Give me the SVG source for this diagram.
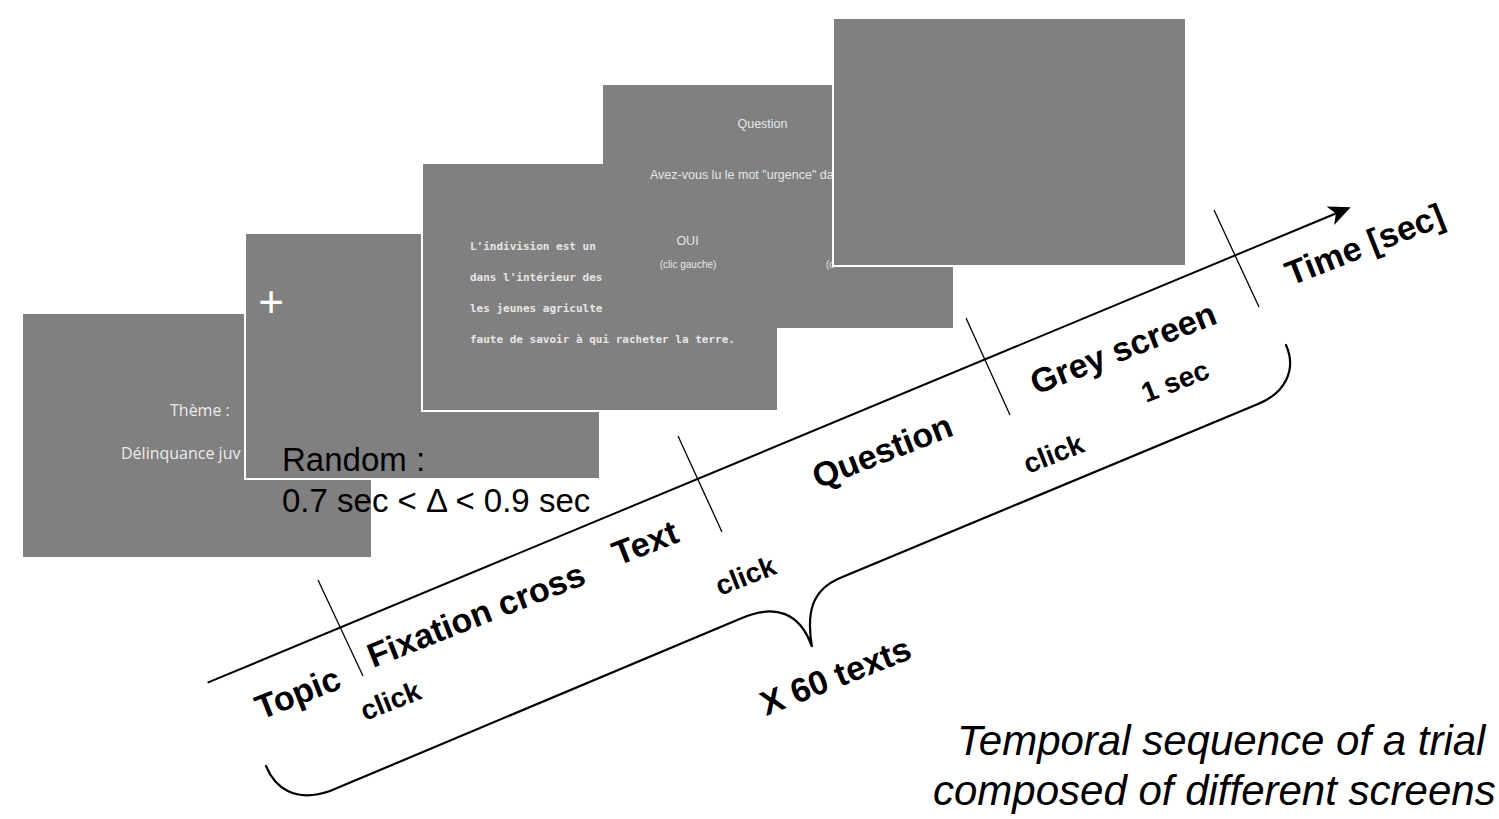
<svg xmlns="http://www.w3.org/2000/svg" width="1499" height="819" viewBox="0 0 1499 819">
  <style>
    .scr { fill: #808080; }
    .scrb { fill: #808080; stroke: #ffffff; stroke-width: 2; }
    .t1 { font-family: "Open Sans", "Liberation Sans", sans-serif; font-size: 16px; fill: #ececec; }
    .mono { font-family: "DejaVu Sans Mono", "Liberation Mono", monospace; font-weight: bold; font-size: 11px; fill: #e6e6e6; }
    .q { font-family: "Liberation Sans", Arial, sans-serif; fill: #e6e6e6; }
    .rnd { font-family: "Liberation Sans", Arial, sans-serif; font-size: 33px; fill: #000000; }
    .lbl { font-family: "Liberation Sans", Arial, sans-serif; font-weight: bold; font-size: 34px; fill: #000000; }
    .sm { font-family: "Liberation Sans", Arial, sans-serif; font-weight: bold; font-size: 28px; fill: #000000; }
    .cap { font-family: "Liberation Sans", Arial, sans-serif; font-style: italic; font-size: 42px; fill: #000000; }
    .axis { stroke: #000000; stroke-width: 2; fill: none; }
    .tick { stroke: #000000; stroke-width: 1.3; fill: none; }
    .brace { stroke: #000000; stroke-width: 2.2; fill: none; stroke-linecap: round; }
  </style>

  <g id="screen-topic">
    <rect class="scr" x="23" y="314" width="348" height="243"/>
    <text class="t1" x="170" y="416">Thème :</text>
    <text class="t1" x="121" y="459">Délinquance juv</text>
  </g>

  <g id="screen-fixation">
    <rect class="scrb" x="245" y="233" width="355" height="246"/>
    <text x="271" y="317" text-anchor="middle" style="font-family: 'Liberation Sans', Arial, sans-serif; font-size: 44px; fill: #ffffff;">+</text>
  </g>

  <g id="random-label">
    <text class="rnd" x="282" y="471">Random :</text>
    <text class="rnd" x="282" y="512">0.7 sec &lt; Δ &lt; 0.9 sec</text>
  </g>

  <g id="screen-text">
    <rect class="scrb" x="422" y="163" width="356" height="248"/>
    <text class="mono" x="470" y="250">L'indivision est un</text>
    <text class="mono" x="470" y="281">dans l'intérieur des</text>
    <text class="mono" x="470" y="312">les jeunes agriculte</text>
    <text class="mono" x="470" y="343">faute de savoir à qui racheter la terre.</text>
  </g>

  <g id="screen-question">
    <rect class="scr" x="603" y="85" width="350" height="243"/>
    <text class="q" x="762.5" y="128" text-anchor="middle" font-size="12.5">Question</text>
    <text class="q" x="650" y="179" font-size="12.5">Avez-vous lu le mot "urgence" da</text>
    <text class="q" x="687.5" y="245" text-anchor="middle" font-size="12.5">OUI</text>
    <text class="q" x="688" y="268" text-anchor="middle" font-size="10">(clic gauche)</text>
    <text class="q" x="826" y="268" font-size="10">(c</text>
  </g>

  <g id="screen-grey">
    <rect class="scrb" x="833" y="18" width="353" height="248"/>
  </g>

  <g id="connectors">
    <line class="axis" x1="207.6" y1="682.7" x2="1337" y2="213"/>
    <path d="M1350.7,207.3 L1326.6,206.5 L1335.9,213.4 L1334.2,225 Z" fill="#000000"/>
    <line class="tick" x1="318" y1="580" x2="363" y2="676"/>
    <line class="tick" x1="678" y1="436" x2="722" y2="532"/>
    <line class="tick" x1="966" y1="318" x2="1010" y2="415"/>
    <line class="tick" x1="1214" y1="210" x2="1259" y2="307"/>
    <path class="brace" d="M266,766 C275,788 295,803 330,791 L742,618 C775,604 800,612 812,647 C806,612 812,590 840,578 L1258,404 C1285,393 1297,370 1286,345"/>
  </g>

  <g id="labels">
    <text class="lbl" transform="translate(261,720) rotate(-21.5)">Topic</text>
    <text class="sm" transform="translate(365,721) rotate(-21.5)">click</text>
    <text class="lbl" transform="translate(373,668) rotate(-21.5)">Fixation cross</text>
    <text class="lbl" transform="translate(618,566) rotate(-21.5)">Text</text>
    <text class="sm" transform="translate(720,596) rotate(-21.5)">click</text>
    <text class="lbl" transform="translate(818,489) rotate(-21.5)">Question</text>
    <text class="sm" transform="translate(1028,474) rotate(-21.5)">click</text>
    <text class="lbl" transform="translate(1036,395) rotate(-21.5)">Grey screen</text>
    <text class="sm" transform="translate(1146,403) rotate(-21.5)">1 sec</text>
    <text class="lbl" transform="translate(1291,286) rotate(-21.5)">Time [sec]</text>
    <text class="lbl" transform="translate(766,716) rotate(-21.5)">X 60 texts</text>
  </g>

  <g id="caption">
    <text class="cap" x="957" y="755">Temporal sequence of a trial</text>
    <text class="cap" x="933" y="805">composed of different screens</text>
  </g>
</svg>
